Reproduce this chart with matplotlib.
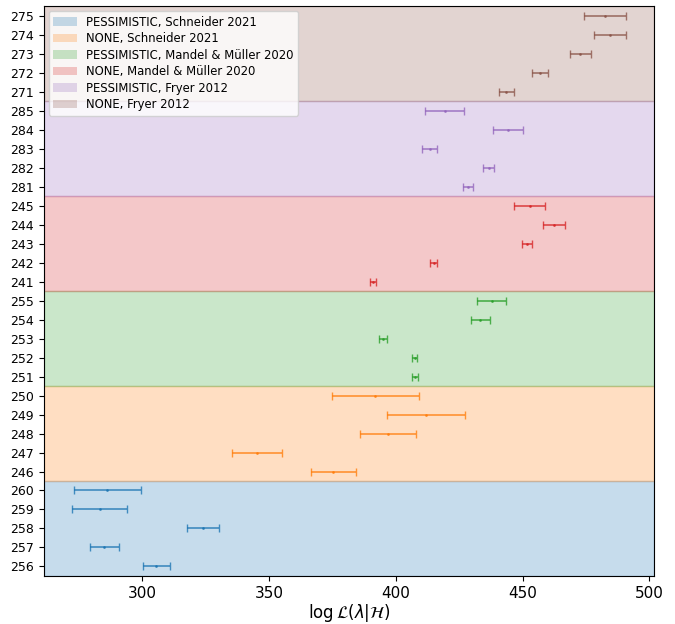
import numpy as np
import matplotlib
matplotlib.use('Agg')
import matplotlib.pyplot as plt
from matplotlib.patches import Patch

# run ids per group (bottom to top)
groups = [
    'PESSIMISTIC, Schneider 2021',
    'NONE, Schneider 2021',
    'PESSIMISTIC, Mandel & Müller 2020',
    'NONE, Mandel & Müller 2020',
    'PESSIMISTIC, Fryer 2012',
    'NONE, Fryer 2012',
]
run_ids = [
    [256, 257, 258, 259, 260],
    [246, 247, 248, 249, 250],
    [251, 252, 253, 254, 255],
    [241, 242, 243, 244, 245],
    [281, 282, 283, 284, 285],
    [271, 272, 273, 274, 275],
]
# log-likelihood means and errors
loglik = [
    [305.6, 285.0, 324.0, 283.2, 286.3],
    [375.4, 345.3, 397.0, 411.9, 392.0],
    [407.5, 407.5, 395.0, 433.4, 437.8],
    [390.9, 414.9, 451.7, 462.3, 452.8],
    [428.4, 436.6, 413.4, 444.3, 419.3],
    [443.5, 456.9, 472.8, 484.6, 482.4],
]
loglik_err = [
    [5.2, 5.7, 6.4, 11.0, 13.2],
    [9.0, 9.7, 11.0, 15.3, 17.1],
    [1.1, 1.0, 1.7, 3.7, 5.8],
    [1.2, 1.4, 2.1, 4.4, 6.0],
    [1.9, 2.3, 3.0, 6.0, 7.6],
    [3.0, 3.2, 4.0, 6.3, 8.3],
]

colors = plt.rcParams['axes.prop_cycle'].by_key()['color']

fig = plt.figure(figsize=(6.75, 6.24), dpi=100)
ax = fig.add_axes([0.065, 0.077, 0.904, 0.913])

labels = []
handles = []
pos = 0
for g, name in enumerate(groups):
    n = len(run_ids[g])
    ys = np.arange(pos, pos + n)
    c = colors[g]
    ax.axhspan(pos - 0.5, pos + n - 0.5, color=c, alpha=0.25, zorder=0)
    ax.errorbar(loglik[g], ys, xerr=loglik_err[g], fmt='.', color=c,
                capsize=3, markersize=2, elinewidth=1.2, alpha=0.8)
    handles.append(Patch(facecolor=c, alpha=0.25, label=name))
    labels += [str(r) for r in run_ids[g]]
    pos += n

ax.set_yticks(np.arange(pos))
ax.set_yticklabels(labels, fontsize=9)
ax.set_ylim(-0.5, pos - 0.5)
ax.tick_params(axis='x', labelsize=11)
ax.set_xlabel(r'$\log \mathcal{L}(\lambda|\mathcal{H})$', fontsize=12, labelpad=1)
ax.legend(handles=handles, loc='upper left', fontsize=8.4, labelspacing=0.3,
          borderaxespad=0.4)

fig.savefig('out.png', dpi=100)
